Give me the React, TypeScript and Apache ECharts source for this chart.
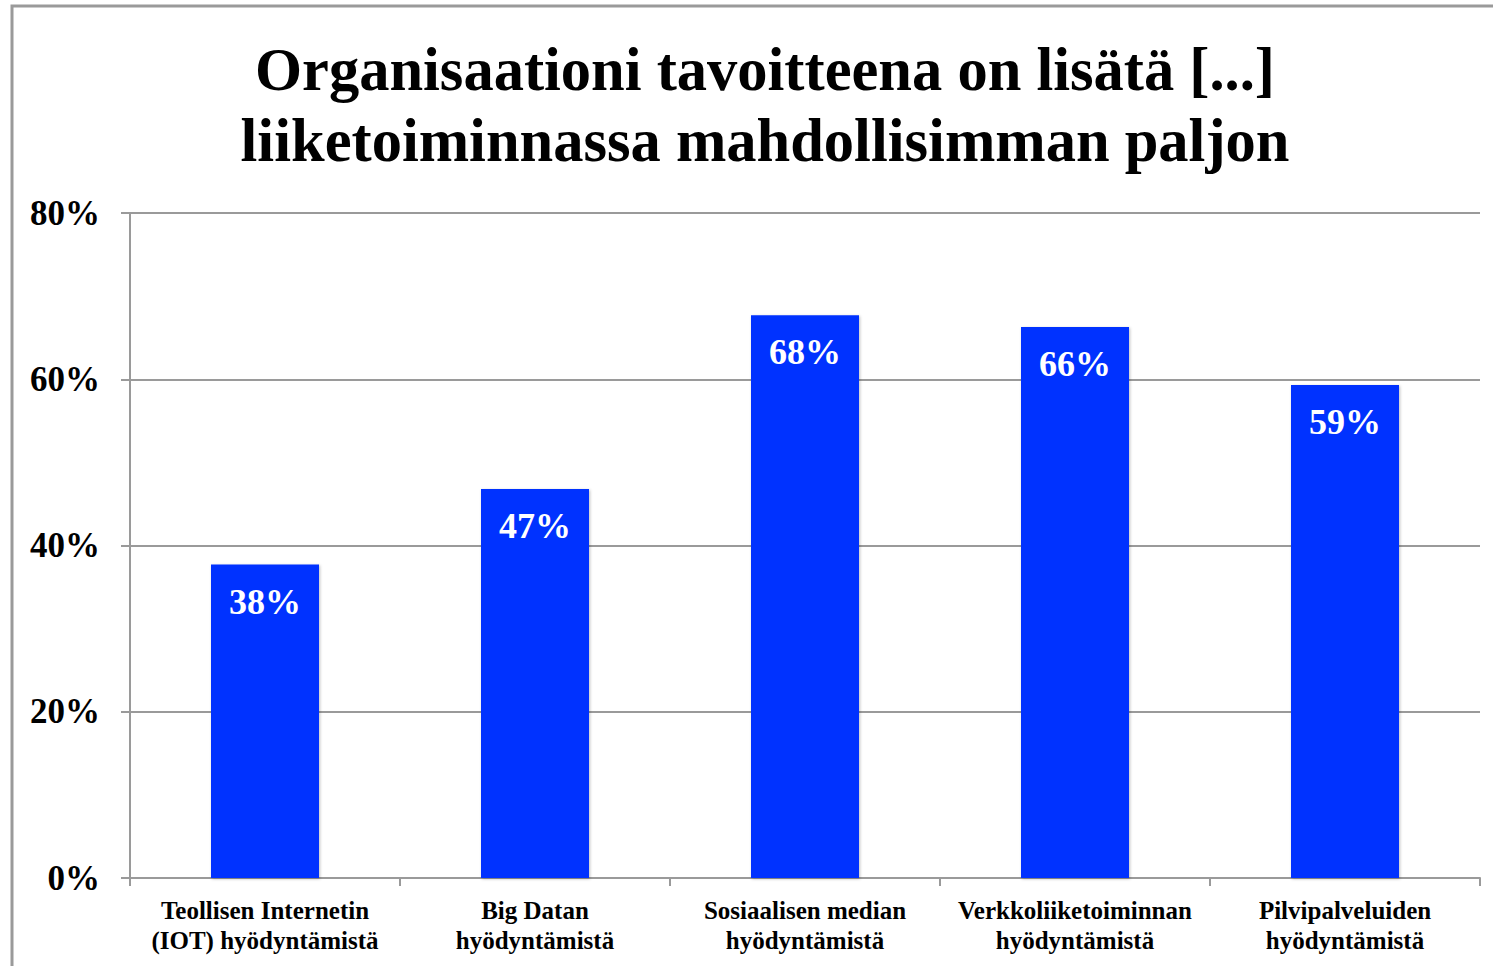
import React, { useEffect, useRef } from "react";
import * as echarts from "echarts";

const categories = [
  "Teollisen Internetin\n(IOT) hyödyntämistä",
  "Big Datan\nhyödyntämistä",
  "Sosiaalisen median\nhyödyntämistä",
  "Verkkoliiketoiminnan\nhyödyntämistä",
  "Pilvipalveluiden\nhyödyntämistä",
];
const values = [37.7, 46.8, 67.7, 66.3, 59.3];
const titleText = "Organisaationi tavoitteena on lisätä [...]\nliiketoiminnassa mahdollisimman paljon";

const FONT = "'Liberation Serif', 'Times New Roman', serif";

export default function App() {
  const ref = useRef<HTMLDivElement>(null);
  useEffect(() => {
    if (!ref.current) return;
    const chart = echarts.init(ref.current, null, { renderer: "svg" });
    chart.setOption({
      animation: false,
      backgroundColor: "#ffffff",
      graphic: [
        {
          type: "rect",
          shape: { x: 12, y: 6, width: 1600, height: 1100 },
          style: { fill: "none", stroke: "#9a9a9a", lineWidth: 3 },
          silent: true,
        },
      ],
      title: {
        text: titleText,
        left: 760,
        textAlign: "center",
        top: 29,
        textStyle: {
          fontFamily: FONT,
          fontWeight: "bold",
          fontSize: 60.5,
          lineHeight: 71,
          color: "#000",
        },
      },
      grid: { left: 130, right: 13, top: 213, bottom: 88, containLabel: false },
      xAxis: {
        type: "category",
        data: categories,
        axisLine: { show: true, lineStyle: { color: "#9a9a9a", width: 2 } },
        axisTick: { show: true, length: 8, lineStyle: { color: "#9a9a9a", width: 2 } },
        axisLabel: {
          interval: 0,
          margin: 17,
          fontFamily: FONT,
          fontWeight: "bold",
          fontSize: 25,
          lineHeight: 30,
          color: "#000",
        },
      },
      yAxis: {
        type: "value",
        min: 0,
        max: 80,
        interval: 20,
        axisLine: { show: true, lineStyle: { color: "#9a9a9a", width: 2 } },
        axisTick: { show: true, length: 9, lineStyle: { color: "#9a9a9a", width: 2 } },
        splitLine: { show: true, lineStyle: { color: "#9a9a9a", width: 2 } },
        axisLabel: {
          formatter: "{value}%",
          margin: 30,
          fontFamily: FONT,
          fontWeight: "bold",
          fontSize: 35,
          color: "#000",
        },
      },
      series: [
        {
          type: "bar",
          data: values,
          barWidth: "40%",
          itemStyle: {
            color: "#0433ff",
            shadowColor: "rgba(0,0,0,0.25)",
            shadowBlur: 3,
            shadowOffsetX: 1,
            shadowOffsetY: 1,
          },
          label: {
            show: true,
            position: "insideTop",
            distance: 19,
            formatter: (p: any) => Math.round(p.value) + "%",
            fontFamily: FONT,
            fontWeight: "bold",
            fontSize: 36,
            color: "#ffffff",
          },
        },
      ],
    });
    return () => chart.dispose();
  }, []);
  return (
    <div
      ref={ref}
      style={{ position: "fixed", left: 0, top: 0, width: 1493, height: 966 }}
    />
  );
}
